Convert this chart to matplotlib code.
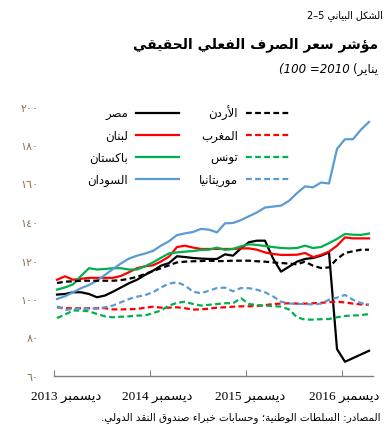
import re
import matplotlib
matplotlib.use('Agg')
import matplotlib.pyplot as plt

# monthly index, Dec 2013 .. Mar 2017
months = list(range(40))

egypt = [102.3, 102.6, 103.5, 103.5, 102.6, 100.9, 101.8, 103.8, 106.0, 108.2,
         110.0, 112.5, 114.7, 117.3, 118.7, 122.2, 121.8, 121.3, 121.0, 120.8,
         120.8, 123.2, 122.5, 126.3, 129.5, 130.3, 130.3, 121.1, 114.2, 116.8,
         119.4, 120.8, 121.3, 122.5, 124.2, 74.0, 67.4, 69.3, 71.2, 73.1]
jordan = [108.3, 109.0, 109.2, 109.5, 109.5, 109.5, 109.5, 109.5, 109.8, 110.5,
          111.5, 113.0, 114.5, 116.0, 117.5, 119.0, 119.4, 119.6, 119.7, 119.9,
          119.7, 119.7, 119.9, 119.9, 119.9, 119.6, 119.4, 119.0, 118.7, 118.4,
          118.0, 119.4, 117.3, 116.1, 116.4, 120.8, 123.9, 124.8, 125.6, 125.6]
lebanon = [110.0, 111.8, 110.0, 110.5, 111.0, 111.0, 111.0, 111.0, 112.0, 113.9,
           116.0, 117.0, 117.5, 119.5, 122.0, 127.0, 127.7, 126.7, 126.0, 126.0,
           126.0, 126.0, 126.0, 126.3, 126.3, 125.6, 124.2, 123.4, 122.9, 122.9,
           123.0, 123.9, 121.8, 122.9, 124.6, 127.7, 132.0, 131.5, 131.5, 131.5]
morocco = [95.7, 95.2, 95.2, 95.2, 95.2, 95.2, 95.2, 94.6, 94.6, 94.7,
           94.8, 95.5, 96.0, 95.5, 95.5, 95.7, 95.2, 94.5, 94.6, 95.0,
           95.5, 95.7, 96.0, 96.2, 96.2, 96.4, 96.8, 97.4, 97.6, 97.8,
           97.6, 97.6, 97.8, 98.0, 98.4, 98.6, 98.2, 97.6, 97.2, 97.0]
pakistan = [104.9, 106.0, 107.6, 112.0, 116.0, 115.3, 115.6, 116.0, 116.0, 115.3,
            115.3, 117.0, 119.0, 121.4, 123.7, 124.2, 124.6, 124.9, 125.5, 125.6,
            126.7, 125.5, 126.0, 127.4, 128.4, 128.1, 127.5, 127.0, 126.5, 126.3,
            126.5, 127.7, 126.5, 127.0, 129.0, 131.2, 133.8, 133.4, 133.3, 134.0]
tunisia = [90.1, 91.9, 94.0, 94.0, 93.6, 92.2, 91.0, 90.5, 90.8, 91.0,
           91.4, 91.4, 92.7, 94.0, 96.6, 98.0, 98.6, 97.4, 96.6, 97.0,
           97.4, 97.8, 97.8, 100.4, 97.4, 96.8, 96.5, 96.4, 96.0, 94.6,
           90.5, 89.3, 89.3, 89.5, 89.6, 90.5, 91.2, 91.4, 91.6, 92.2]
sudan = [100.0, 101.4, 103.5, 105.6, 107.3, 109.5, 112.5, 115.6, 118.5, 121.0,
         122.5, 123.6, 125.0, 127.7, 130.0, 133.2, 134.1, 134.8, 136.4, 136.0,
         134.6, 139.3, 139.5, 141.0, 143.0, 145.0, 147.5, 148.0, 148.5, 151.0,
         155.0, 158.5, 158.0, 160.5, 160.0, 178.0, 183.0, 183.0, 188.0, 192.0]
mauritania = [96.2, 94.3, 94.8, 95.0, 95.0, 95.0, 95.7, 96.6, 98.3, 100.0,
              101.2, 102.0, 103.5, 106.0, 108.0, 108.7, 107.0, 103.8, 103.0, 104.3,
              105.7, 105.9, 104.0, 105.7, 105.6, 104.8, 103.5, 101.4, 98.6, 97.7,
              97.4, 97.4, 97.2, 97.6, 99.6, 100.7, 102.1, 99.6, 97.9, 96.9]

yticks = [60, 80, 100, 120, 140, 160, 180, 200]
xtick_pos = [-0.35, 11.65, 23.65, 35.65]
xlabel_pos = [1.1, 12.5, 24.1, 35.9]
xlabels = ['ديسمبر 2013', 'ديسمبر 2014', 'ديسمبر 2015', 'ديسمبر 2016']

# --- minimal arabic shaping (matplotlib has no bidi / joining) ---
_letters = 'ءآأؤإئابةتثجحخدذرزسشصضطظعغفقكلمنهوىي'
_counts = [1, 2, 2, 2, 2, 4, 2, 4, 2, 4, 4, 4, 4, 4, 2, 2, 2, 2, 4, 4,
           4, 4, 4, 4, 4, 4, 4, 4, 4, 4, 4, 4, 4, 2, 2, 4]
FORMS = {}
code = 0xFE80
for ch, n in zip(_letters, _counts):
    FORMS[ch] = [chr(code + k) for k in range(n)]
    code += n
LAMALEF = {'آ': 0xFEF5, 'أ': 0xFEF7, 'إ': 0xFEF9, 'ا': 0xFEFB}


def shape(text):
    out = []
    i = 0
    prev_joins = False
    while i < len(text):
        c = text[i]
        if c not in FORMS:
            out.append(c)
            prev_joins = False
            i += 1
            continue
        nxt = text[i + 1] if i + 1 < len(text) else ''
        if c == 'ل' and nxt in LAMALEF:
            out.append(chr(LAMALEF[nxt] + (1 if prev_joins else 0)))
            prev_joins = False
            i += 2
            continue
        f = FORMS[c]
        jn = len(f) == 4 and nxt in FORMS and nxt != 'ء'
        jp = prev_joins and len(f) > 1
        if jp and jn:
            out.append(f[3])
        elif jp:
            out.append(f[1])
        elif jn:
            out.append(f[2])
        else:
            out.append(f[0])
        prev_joins = len(f) == 4
        i += 1
    return ''.join(out)


def rtl(text):
    s = shape(text)[::-1]
    # number runs (and 2-5 style ranges) stay left to right
    s = re.sub(r'[0-9]+(?:–[0-9]+)*', lambda m: m.group(0)[::-1], s)
    return s.translate(str.maketrans('()', ')('))


plt.rcParams['font.family'] = ['DejaVu Sans']

fig = plt.figure(figsize=(3.89, 4.35), dpi=100)
ax = fig.add_axes([54 / 389, 58 / 435, 319 / 389, 269.5 / 435])

lw = 1.6
dash = (2.6, 1.5)
ax.plot(months, egypt, color='black', lw=lw, label=rtl('مصر'))
ax.plot(months, lebanon, color='#FF0000', lw=lw, label=rtl('لبنان'))
ax.plot(months, pakistan, color='#00B050', lw=lw, label=rtl('باكستان'))
ax.plot(months, sudan, color='#5B9BD5', lw=lw, label=rtl('السودان'))
ax.plot(months, jordan, color='black', lw=lw, dashes=dash, label=rtl('الأردن'))
ax.plot(months, morocco, color='#FF0000', lw=lw, dashes=dash, label=rtl('المغرب'))
ax.plot(months, tunisia, color='#00B050', lw=lw, dashes=dash, label=rtl('تونس'))
ax.plot(months, mauritania, color='#5B9BD5', lw=lw, dashes=dash, label=rtl('موريتانيا'))

ax.set_xlim(-0.375, 39.5)
ax.set_ylim(60, 200)

for s in ['top', 'right', 'left']:
    ax.spines[s].set_visible(False)
ax.spines['bottom'].set_color('#808080')
ax.spines['bottom'].set_linewidth(1.0)

arabic_digits = str.maketrans('0123456789', '٠١٢٣٤٥٦٧٨٩')
ax.set_yticks(yticks)
ax.set_yticklabels([str(v).translate(arabic_digits) for v in yticks])
ax.tick_params(axis='y', length=0, pad=11, labelsize=8, labelcolor='#8c7355')
ax.set_xticks(xtick_pos)
ax.set_xticklabels([])
ax.tick_params(axis='x', direction='in', length=4, color='#808080')

for xp, lab in zip(xlabel_pos, xlabels):
    ax.text(xp, -0.075, rtl(lab), transform=ax.get_xaxis_transform(),
            ha='center', va='center', fontsize=9.5,
            family=['Liberation Serif', 'DejaVu Sans'])

leg = ax.legend(ncol=2, loc='upper left', bbox_to_anchor=(0.105, 1.005),
                frameon=False, markerfirst=False, fontsize=8.5,
                handlelength=3.6, handletextpad=0.7, columnspacing=1.7,
                labelspacing=0.75, borderpad=0, borderaxespad=0)

fig.text(0.985, 0.965, rtl('الشكل البياني 2–5'), ha='right', va='center', fontsize=7)
fig.text(0.972, 0.898, rtl('مؤشر سعر الصرف الفعلي الحقيقي'), ha='right', va='center',
         fontsize=10, fontweight='bold')

# subtitle: DejaVu Oblique has no arabic forms, so the word is upright
sub_right = fig.text(0.972, 0.84, rtl('يناير)'), ha='right', va='center', fontsize=8.5)
fig.canvas.draw()
bb = sub_right.get_window_extent(fig.canvas.get_renderer())
fig.text(bb.x0 / fig.bbox.width, 0.84, '(100 =2010 ', ha='right', va='center',
         fontsize=8.5, style='italic')

fig.text(0.977, 0.04, rtl('المصادر: السلطات الوطنية؛ وحسابات خبراء صندوق النقد الدولي.'),
         ha='right', va='center', fontsize=7.5)

fig.savefig('out.png', dpi=100)
